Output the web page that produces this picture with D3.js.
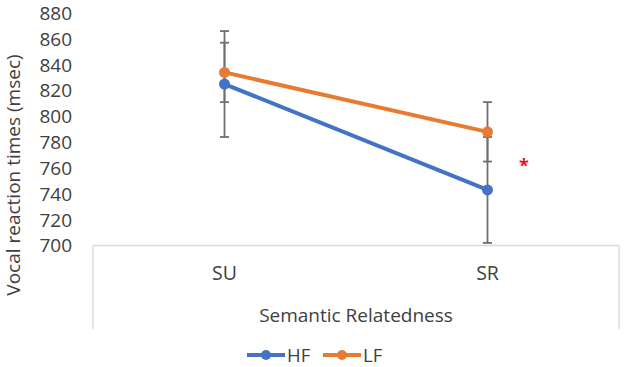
<!DOCTYPE html>
<html>
<head>
<meta charset="utf-8">
<script src="https://cdn.jsdelivr.net/npm/d3@7"></script>
<style>
  body { margin: 0; background: #fff; }
  svg { display: block; font-family: "Open Sans", sans-serif; }
</style>
</head>
<body>
<div id="chart-container"></div>
<script>
// data
const categories = ["SU", "SR"];
const seriesNames = ["HF", "LF"];
const hfValues = [825, 743];
const lfValues = [834, 788];
const hfErrors = [41, 41];
const lfErrors = [23, 23];
const yTicks = [700, 720, 740, 760, 780, 800, 820, 840, 860, 880];
const seriesColors = ["#4472C4", "#E67B31"];

const width = 624;
const height = 367;
const plot = { left: 93, right: 619, top: 13, bottom: 245.5 };

const svg = d3.select("#chart-container")
    .append("svg")
    .attr("width", width)
    .attr("height", height);

const x = d3.scaleBand()
    .domain(categories)
    .range([plot.left, plot.right])
    .padding(0);

const y = d3.scaleLinear()
    .domain([700, 880])
    .range([plot.bottom, plot.top]);

const series = [
    { name: seriesNames[0], values: hfValues, errors: hfErrors, color: seriesColors[0] },
    { name: seriesNames[1], values: lfValues, errors: lfErrors, color: seriesColors[1] }
];

// y tick labels (no axis line in the original)
svg.append("g")
    .selectAll("text")
    .data(yTicks)
    .join("text")
    .attr("x", 72)
    .attr("y", d => y(d))
    .attr("dy", "0.36em")
    .attr("text-anchor", "end")
    .attr("font-size", 19)
    .attr("fill", "#404040")
    .text(d => d);

// category axis frame
const frame = svg.append("g")
    .attr("stroke", "#d9d9d9")
    .attr("stroke-width", 1.3)
    .attr("fill", "none");

frame.append("line")
    .attr("x1", plot.left).attr("x2", plot.right)
    .attr("y1", plot.bottom).attr("y2", plot.bottom);

frame.selectAll(".side")
    .data([plot.left, plot.right])
    .join("line")
    .attr("class", "side")
    .attr("x1", d => d).attr("x2", d => d)
    .attr("y1", plot.bottom).attr("y2", 329);

// category labels
svg.append("g")
    .selectAll("text")
    .data(categories)
    .join("text")
    .attr("x", d => x(d) + x.bandwidth() / 2)
    .attr("y", 273)
    .attr("dy", "0.36em")
    .attr("text-anchor", "middle")
    .attr("font-size", 19.5)
    .attr("fill", "#404040")
    .text(d => d);

// axis titles
svg.append("text")
    .attr("x", (plot.left + plot.right) / 2)
    .attr("y", 315)
    .attr("dy", "0.36em")
    .attr("text-anchor", "middle")
    .attr("font-size", 19)
    .attr("fill", "#404040")
    .text("Semantic Relatedness");

svg.append("text")
    .attr("transform", "translate(13,175) rotate(-90)")
    .attr("dy", "0.36em")
    .attr("text-anchor", "middle")
    .attr("font-size", 19)
    .attr("fill", "#404040")
    .text("Vocal reaction times (msec)");

const cx = d => x(d) + x.bandwidth() / 2;

// error bars
series.forEach(s => {
    const g = svg.append("g")
        .attr("stroke", "#6f6f6f")
        .attr("stroke-width", 1.8);
    categories.forEach((c, i) => {
        const hi = y(s.values[i] + s.errors[i]);
        const lo = y(s.values[i] - s.errors[i]);
        g.append("line")
            .attr("x1", cx(c)).attr("x2", cx(c))
            .attr("y1", hi).attr("y2", lo);
        [hi, lo].forEach(v => {
            g.append("line")
                .attr("x1", cx(c) - 4.5).attr("x2", cx(c) + 4.5)
                .attr("y1", v).attr("y2", v);
        });
    });
});

// lines and markers
const line = d3.line()
    .x((d, i) => cx(categories[i]))
    .y(d => y(d));

series.forEach(s => {
    svg.append("path")
        .datum(s.values)
        .attr("fill", "none")
        .attr("stroke", s.color)
        .attr("stroke-width", 4)
        .attr("d", line);

    svg.append("g")
        .selectAll("circle")
        .data(s.values)
        .join("circle")
        .attr("cx", (d, i) => cx(categories[i]))
        .attr("cy", d => y(d))
        .attr("r", 5.5)
        .attr("fill", s.color);
});

// significance marker
svg.append("text")
    .attr("x", 524)
    .attr("y", 163)
    .attr("dy", "0.5em")
    .attr("text-anchor", "middle")
    .attr("font-size", 18)
    .attr("font-weight", "bold")
    .attr("fill", "#E3141C")
    .text("*");

// legend
const legendX = [247, 323];
const legendY = 355;
const legend = svg.append("g");
series.forEach((s, i) => {
    const lx = legendX[i];
    legend.append("line")
        .attr("x1", lx).attr("x2", lx + 38)
        .attr("y1", legendY).attr("y2", legendY)
        .attr("stroke", s.color)
        .attr("stroke-width", 4);
    legend.append("circle")
        .attr("cx", lx + 19)
        .attr("cy", legendY)
        .attr("r", 5)
        .attr("fill", s.color);
    legend.append("text")
        .attr("x", lx + 40)
        .attr("y", legendY)
        .attr("dy", "0.36em")
        .attr("font-size", 18.5)
        .attr("fill", "#404040")
        .text(s.name);
});
</script>
</body>
</html>
